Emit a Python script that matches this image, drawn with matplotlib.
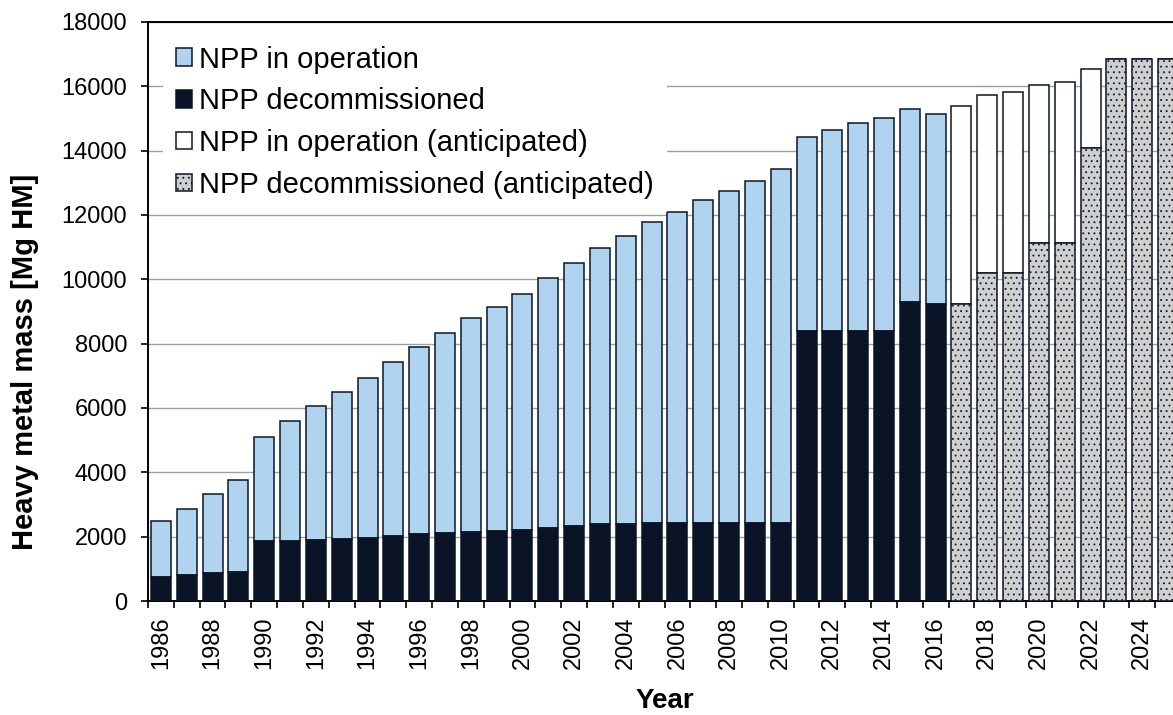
import matplotlib
matplotlib.use("Agg")
import matplotlib.pyplot as plt
import numpy as np

plt.rcParams['font.family'] = ['Liberation Sans', 'DejaVu Sans']
plt.rcParams['hatch.linewidth'] = 0.6

years = list(range(1986, 2026))

# measured years 1986-2016 (Mg HM)
decommissioned = [760, 820, 870, 910, 1865, 1855, 1895, 1940, 1970, 2020,
                  2095, 2125, 2155, 2175, 2205, 2270, 2330, 2395, 2395, 2435,
                  2435, 2435, 2435, 2435, 2435, 8385, 8385, 8385, 8385, 9305,
                  9235]
total = [2490, 2850, 3320, 3760, 5100, 5605, 6050, 6490, 6935, 7420,
         7885, 8330, 8790, 9130, 9555, 10040, 10500, 10965, 11350, 11785,
         12105, 12480, 12745, 13070, 13440, 14430, 14645, 14850, 15030, 15290,
         15155]

# anticipated years 2017-2025
decommissioned_ant = [9220, 10195, 10195, 11115, 11115, 14095, 16840, 16840, 16840]
total_ant = [15375, 15720, 15820, 16040, 16140, 16530, 16840, 16840, 16840]

in_operation = [t - d for t, d in zip(total, decommissioned)]
in_operation_ant = [t - d for t, d in zip(total_ant, decommissioned_ant)]

edge = '#0b1628'
w = 0.775
x1 = np.arange(len(total))
x2 = np.arange(len(total), len(years))

fig = plt.figure(figsize=(11.73, 7.15), dpi=100)
ax = fig.add_axes([148 / 1173, 114 / 715, 1033 / 1173, 579 / 715])

b1 = ax.bar(x1, in_operation, w, bottom=decommissioned, color='#b0d4ef',
            edgecolor=edge, linewidth=1.1, zorder=3, label='NPP in operation')
b2 = ax.bar(x1, decommissioned, w, color='#0a1426', edgecolor=edge,
            linewidth=1.1, zorder=3, label='NPP decommissioned')
b3 = ax.bar(x2, in_operation_ant, w, bottom=decommissioned_ant, color='white',
            edgecolor=edge, linewidth=1.1, zorder=3,
            label='NPP in operation (anticipated)')
b4 = ax.bar(x2, decommissioned_ant, w, color='#cfcfcf', edgecolor=edge,
            linewidth=1.1, hatch='...', zorder=3,
            label='NPP decommissioned (anticipated)')

ax.set_xlim(-0.5, len(years) - 0.5)
ax.set_ylim(0, 18000)
ax.set_yticks(np.arange(0, 18001, 2000))
ax.yaxis.grid(True, color='#a0a0a0', linewidth=1.0, zorder=0)
ax.set_axisbelow(True)

ax.set_xticks(np.arange(0, len(years), 2))
ax.set_xticklabels([str(y) for y in years[::2]], rotation=90)
ax.set_xticks(np.arange(-0.5, len(years), 1), minor=True)
ax.tick_params(axis='x', which='major', length=0, pad=11, labelsize=17)
ax.tick_params(axis='x', which='minor', length=5, width=1.2, direction='out')
ax.tick_params(axis='y', length=5, width=1.2, pad=10, labelsize=17)

for s in ['left', 'bottom', 'top']:
    ax.spines[s].set_linewidth(1.4)
    ax.spines[s].set_color('black')
ax.spines['right'].set_visible(False)

ax.set_ylabel('Heavy metal mass [Mg HM]', fontsize=21, fontweight='bold')
ax.yaxis.set_label_coords(-0.106, 0.413)
fig.text(665 / 1173, 14 / 715, 'Year', fontsize=20, fontweight='bold',
         ha='center', va='center')

leg = ax.legend(handles=[b1, b2, b3, b4], loc='upper left',
                bbox_to_anchor=(0.0145, 0.982), borderaxespad=0,
                fontsize=21, frameon=True, fancybox=False, framealpha=1,
                edgecolor='none', facecolor='white', handlelength=0.55,
                handleheight=0.55, handletextpad=0.25, labelspacing=0.47,
                borderpad=0.45)
leg.set_zorder(5)

fig.savefig('out.png', dpi=100)
